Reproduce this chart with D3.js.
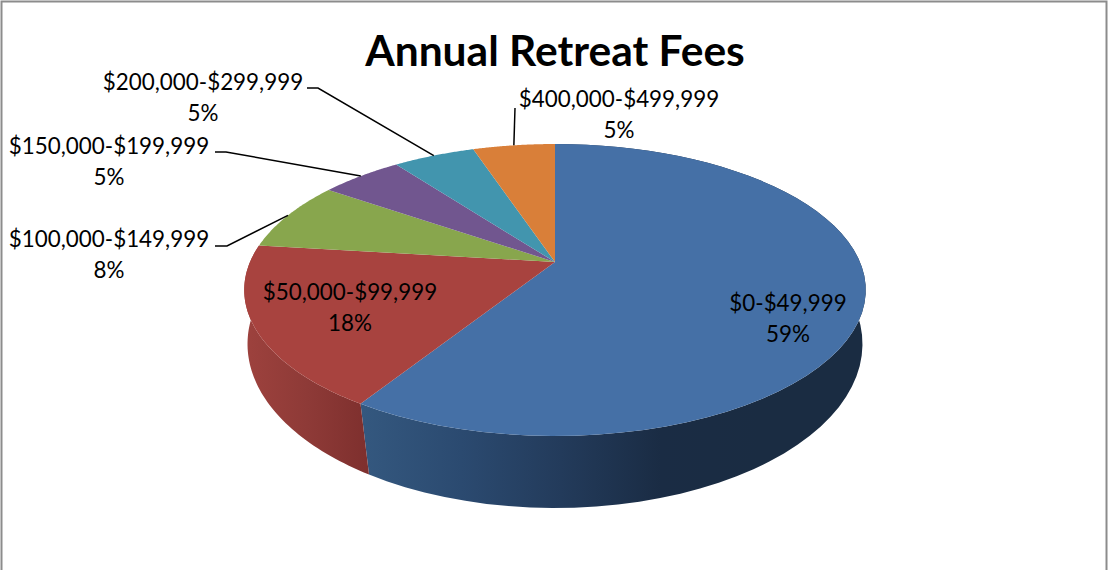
<!DOCTYPE html>
<html>
<head>
<meta charset="utf-8">
<script src="https://cdn.jsdelivr.net/npm/d3@7"></script>
<style>
  html, body { margin: 0; background: #fff; overflow: hidden; }
  text { font-family: Lato, "Noto Sans", sans-serif; fill: #000; }
</style>
</head>
<body>
<svg id="chart" width="1108" height="570"></svg>
<script>
const categories = ['$0-$49,999', '$50,000-$99,999', '$100,000-$149,999', '$150,000-$199,999', '$200,000-$299,999', '$400,000-$499,999'];
// the printed labels are these rounded
const shares = [58.97, 17.95, 7.69, 5.13, 5.13, 5.13];
const topColors = ['#4570a6', '#a8433f', '#88a64d', '#71568f', '#4295ae', '#d97f39'];
const title = 'Annual Retreat Fees';

// side shading, left to right
const blueSide = ['#34587f', '#2b4a70', '#233b5b', '#1a2c44', '#1a2c42'];
const redSide = ['#9c413d', '#8e3a37', '#7f302e'];

// label centre + first baseline, and where the leader starts (if it has one)
const labelX = [788, 350, 109, 109, 203, 619];
const labelY = [311, 300, 247, 154, 90, 107];
const leaderFrom = [null, null, [215, 246, 227, 246], [215, 152, 226, 152], [307, 88, 318, 88], [515, 108, 515, 108]];

const svg = d3.select('#chart');

// the pie is tilted with a bit of perspective, so the apex sits above the ellipse middle.
// the bottom disc is further from the eye so it opens up more than the top one
const topDisc = { x: 555, y: 262, rx: 305, ry: 140.6, persp: 0.1918 };
const bottomDisc = { x: 555, y: 319.4, rx: 304, ry: 160.3, persp: 0.15 };

function project(angle, disc) {
  const u = Math.sin(angle), v = -Math.cos(angle);
  const w = 1 - disc.persp * v;
  return [disc.x + disc.rx * u / w, disc.y + disc.ry * v / w];
}

const slices = d3.pie().sort(null).value(d => d)(shares);
const line = d3.line();

function rim(d, disc) {
  return d3.range(0, 61).map(i => project(d.startAngle + (d.endAngle - d.startAngle) * i / 60, disc));
}

const defs = svg.append('defs');
function sideGradient(id, stops, x1, x2) {
  const g = defs.append('linearGradient').attr('id', id)
    .attr('gradientUnits', 'userSpaceOnUse')
    .attr('x1', x1).attr('x2', x2).attr('y1', 0).attr('y2', 0);
  stops.forEach((c, i) => g.append('stop').attr('offset', i / (stops.length - 1)).attr('stop-color', c));
}
sideGradient('side0', blueSide, 362, 760);
sideGradient('side1', redSide, 250, 365);

svg.append('rect')
  .attr('x', 1.5).attr('y', 1.5).attr('width', 1105).attr('height', 620)
  .attr('fill', '#fff').attr('stroke', '#8c8c8c').attr('stroke-width', 2);

// sides first, top faces cover whatever is at the back
svg.selectAll('path.side')
  .data(slices.slice(0, 2))
  .enter()
  .append('path')
  .attr('class', 'side')
  .attr('d', d => line(rim(d, topDisc).concat(rim(d, bottomDisc).reverse())) + 'Z')
  .attr('fill', (d, i) => `url(#side${i})`);

svg.selectAll('path.face')
  .data(slices)
  .enter()
  .append('path')
  .attr('class', 'face')
  .attr('d', d => line([[topDisc.x, topDisc.y]].concat(rim(d, topDisc))) + 'Z')
  .attr('fill', (d, i) => topColors[i]);

slices.forEach((d, i) => {
  if (!leaderFrom[i]) return;
  const f = leaderFrom[i];
  const end = project((d.startAngle + d.endAngle) / 2, topDisc);
  svg.append('path')
    .attr('d', line([[f[0], f[1]], [f[2], f[3]], end]))
    .attr('fill', 'none')
    .attr('stroke', '#000')
    .attr('stroke-width', 1.5);
});

svg.append('text')
  .attr('x', 555).attr('y', 66)
  .attr('text-anchor', 'middle')
  .attr('font-size', 42.5)
  .attr('font-weight', 700)
  .text(title);

categories.forEach((c, i) => {
  const t = svg.append('text')
    .attr('text-anchor', 'middle')
    .attr('font-size', 22.4);
  t.append('tspan').attr('x', labelX[i]).attr('y', labelY[i]).text(c);
  t.append('tspan').attr('x', labelX[i]).attr('y', labelY[i] + 31).text(Math.round(shares[i]) + '%');
});
</script>
</body>
</html>
